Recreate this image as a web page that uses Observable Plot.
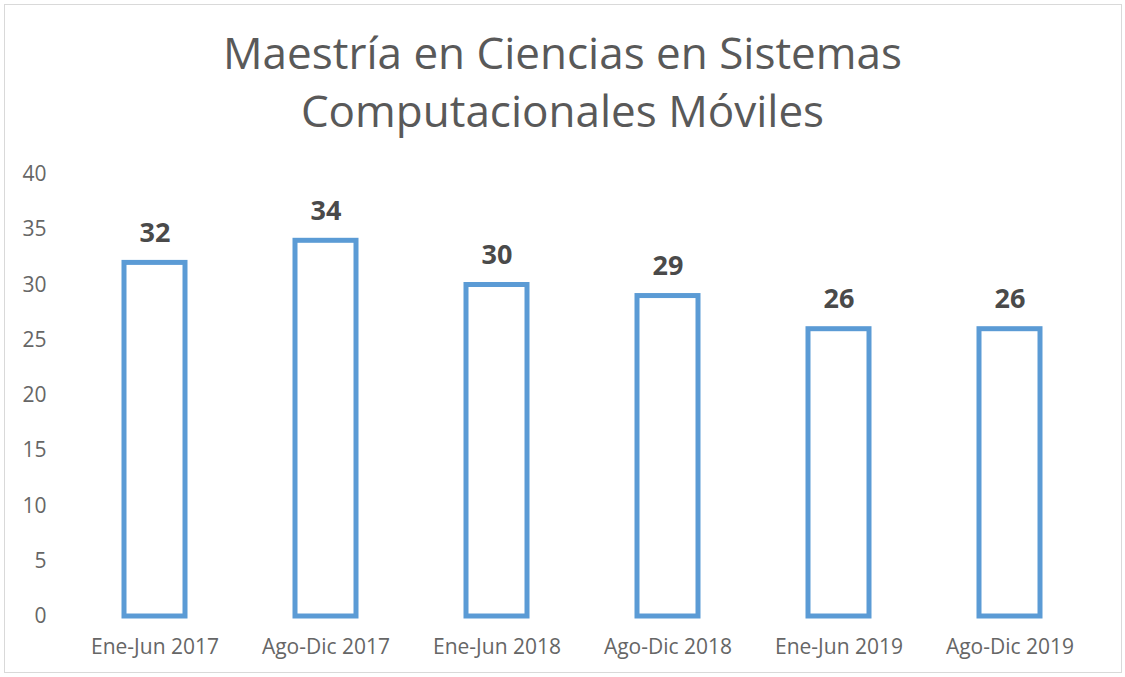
<!DOCTYPE html>
<html>
<head>
<meta charset="utf-8">
<script src="https://cdn.jsdelivr.net/npm/d3@7"></script>
<script src="https://cdn.jsdelivr.net/npm/@observablehq/plot@0.6"></script>
<style>
  html, body { margin: 0; padding: 0; background: #fff; }
  #frame {
    position: absolute; left: 4px; top: 4px; width: 1118px; height: 669px;
    border: 1px solid #d9d9d9; box-sizing: border-box; overflow: hidden;
  }
  #title {
    position: absolute; left: 0; top: 0; width: 1125px; text-align: center;
    font-family: "Open Sans", sans-serif; font-size: 44px; color: #595959;
    line-height: 58px; padding-top: 23px;
  }
  #chart { position: absolute; left: 0; top: 150px; }
</style>
</head>
<body>
<div id="frame"></div>
<div id="title">Maestría en Ciencias en Sistemas<br>Computacionales Móviles</div>
<div id="chart"></div>
<script>
const periods = ["Ene-Jun 2017", "Ago-Dic 2017", "Ene-Jun 2018", "Ago-Dic 2018", "Ene-Jun 2019", "Ago-Dic 2019"];
const students = [32, 34, 30, 29, 26, 26];
const yTicks = [0, 5, 10, 15, 20, 25, 30, 35, 40];

const data = periods.map((p, i) => ({period: p, value: students[i]}));

const chart = Plot.plot({
  width: 1125,
  height: 516,
  marginTop: 24,
  marginBottom: 50,
  marginLeft: 68,
  marginRight: 29,
  style: {fontFamily: "Open Sans, sans-serif", fontSize: "21px", color: "#666666", background: "transparent"},
  x: {domain: periods, padding: 0, label: null},
  y: {domain: [0, 40], label: null},
  marks: [
    Plot.axisY({ticks: yTicks, tickSize: 0, tickPadding: 22, fill: "#666666", fontSize: 21}),
    Plot.axisX({tickSize: 0, tickPadding: 23, fill: "#666666", fontSize: 21}),
    Plot.barY(data, {x: "period", y: "value", fill: "white", stroke: "#5b9bd5", strokeWidth: 5, insetLeft: 55, insetRight: 55}),
    Plot.text(data, {x: "period", y: "value", text: d => String(d.value), dy: -21, lineAnchor: "bottom",
      fontSize: 27, fontWeight: "bold", fill: "#4a4a4a"})
  ]
});
document.getElementById("chart").appendChild(chart);
</script>
</body>
</html>
